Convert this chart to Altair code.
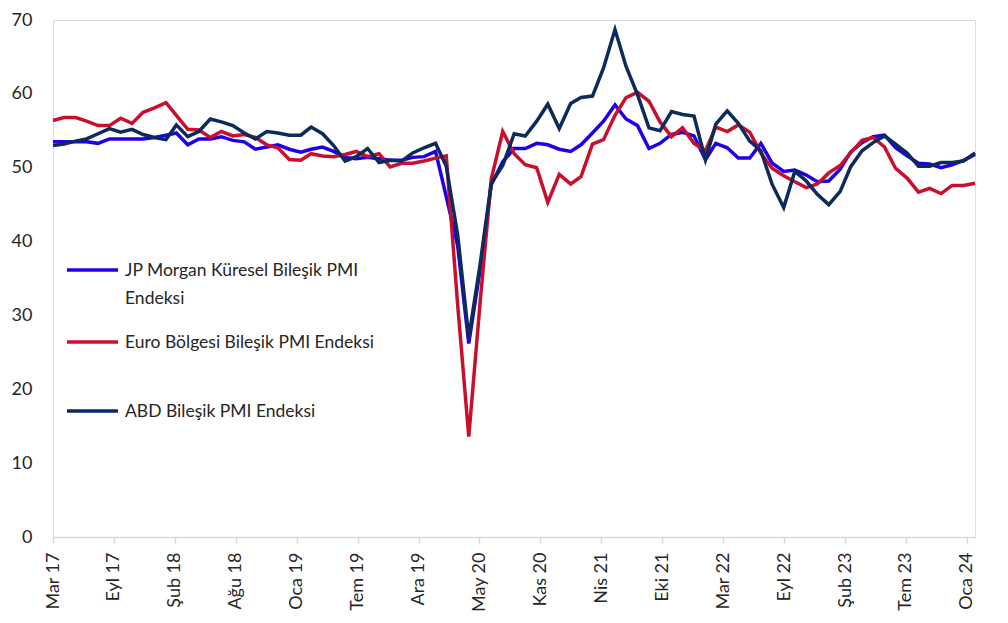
import json
import pandas as pd
import altair as alt

# ---- data (monthly, Mar 2017 - Jan 2024) ----
start_date = "2017-03-31"
n_months = 83

series_names = [
    "JP Morgan Küresel Bileşik PMI Endeksi",
    "Euro Bölgesi Bileşik PMI Endeksi",
    "ABD Bileşik PMI Endeksi",
]
legend_labels = [
    "JP Morgan Küresel Bileşik PMI\nEndeksi",
    "Euro Bölgesi Bileşik PMI Endeksi",
    "ABD Bileşik PMI Endeksi",
]
series_colors = ["#2000E6", "#C8102E", "#0C2A5B"]

jpm = [
    53.5, 53.5, 53.5, 53.5, 53.3, 53.9, 53.9, 53.9, 53.9, 54.1,
    54.4, 54.7, 53.1, 53.9, 53.9, 54.2, 53.7, 53.5, 52.5, 52.8, 53.1, 52.5,
    52.1, 52.5, 52.8, 52.2, 51.4, 51.2, 51.4, 51.2, 51.0, 51.0, 51.4, 51.5,
    52.2, 46.1, 39.4, 26.2, 36.3, 47.7, 50.8, 52.6, 52.6, 53.3, 53.1, 52.5,
    52.2, 53.1, 54.7, 56.3, 58.5, 56.6, 55.7, 52.6, 53.3, 54.5, 54.8, 54.3,
    51.1, 53.3, 52.7, 51.3, 51.3, 53.3, 50.6, 49.5, 49.7, 49.0, 48.1, 48.2,
    49.8, 52.1, 53.4, 54.2, 54.4, 52.7, 51.6, 50.6, 50.5, 50.0, 50.4, 51.0,
    51.8,
]
euro = [
    56.4, 56.8, 56.8, 56.3, 55.7, 55.7, 56.7, 56.0, 57.5, 58.1,
    58.8, 57.1, 55.2, 55.1, 54.1, 54.9, 54.3, 54.5, 54.1, 53.1, 52.7, 51.1,
    51.0, 51.9, 51.6, 51.5, 51.8, 52.2, 51.5, 51.9, 50.1, 50.6, 50.6, 50.9,
    51.3, 51.6, 31.4, 13.6, 31.9, 48.5, 54.9, 51.9, 50.4, 50.0, 45.3, 49.1,
    47.8, 48.8, 53.2, 53.8, 57.1, 59.5, 60.2, 59.0, 56.2, 54.2, 55.4, 53.3,
    52.3, 55.5, 54.9, 55.8, 54.8, 52.0, 49.9, 48.9, 48.1, 47.3, 47.8, 49.3,
    50.3, 52.0, 53.7, 54.1, 52.8, 49.9, 48.6, 46.7, 47.2, 46.5, 47.6, 47.6,
    47.9,
]
abd = [
    53.0, 53.2, 53.6, 53.9, 54.6, 55.3, 54.8, 55.2, 54.5, 54.1,
    53.8, 55.8, 54.2, 54.9, 56.6, 56.2, 55.7, 54.7, 53.9, 54.9, 54.7, 54.4,
    54.4, 55.5, 54.6, 53.0, 50.9, 51.5, 52.6, 50.7, 51.0, 50.9, 52.0, 52.7,
    53.3, 50.2, 40.9, 27.0, 37.0, 47.9, 50.3, 54.6, 54.3, 56.3, 58.6, 55.3,
    58.7, 59.5, 59.7, 63.5, 68.7, 63.7, 59.9, 55.4, 55.0, 57.6, 57.2, 57.0,
    51.1, 55.9, 57.7, 56.0, 53.6, 52.3, 47.7, 44.6, 49.5, 48.2, 46.4, 45.0,
    46.8, 50.1, 52.3, 53.4, 54.3, 53.2, 52.0, 50.2, 50.2, 50.7, 50.7, 50.9,
    52.0,
]

x_tick_labels = [
    "Mar 17", "Eyl 17", "Şub 18", "Ağu 18", "Oca 19", "Tem 19", "Ara 19", "May 20",
    "Kas 20", "Nis 21", "Eki 21", "Mar 22", "Eyl 22", "Şub 23", "Tem 23", "Oca 24",
]
tick_step_days = 165
y_ticks = [0, 10, 20, 30, 40, 50, 60, 70]

# ---- build table ----
dates = pd.date_range(start_date, periods=n_months, freq="ME")
date_str = [d.strftime("%Y-%m-%d") for d in dates]
rows = []
for name, vals in zip(series_names, [jpm, euro, abd]):
    assert len(vals) == n_months
    for d, v in zip(date_str, vals):
        rows.append({"tarih": d, "seri": name, "deger": v})
df = pd.DataFrame(rows)

epoch = pd.Timestamp("1970-01-01")
start_ms = int((pd.Timestamp(start_date) - epoch).total_seconds() * 1000)
end_ms = int((dates[-1] - epoch).total_seconds() * 1000)
day_ms = 86400000
tick_vals = [start_ms + k * tick_step_days * day_ms for k in range(len(x_tick_labels))]

label_expr = (
    f"{json.dumps(x_tick_labels, ensure_ascii=False)}"
    f"[round((datum.value - {start_ms}) / {tick_step_days * day_ms})]"
)

FONT = "Lato"
TXT = "#262626"

base = alt.Chart(df).encode(
    x=alt.X(
        "tarih:T",
        scale=alt.Scale(domain=[start_ms, end_ms], nice=False),
        axis=alt.Axis(
            title=None,
            values=tick_vals,
            labelExpr=label_expr,
            labelAngle=-90,
            labelFontSize=18,
            labelFont=FONT,
            labelColor=TXT,
            labelPadding=9,
            domainColor="#d9d9d9",
            domainWidth=1.5,
            tickColor="#d9d9d9",
            tickWidth=1.5,
            tickSize=6,
            grid=False,
            labelOverlap=False,
            labelBound=False,
            labelFlush=False,
        ),
    ),
    y=alt.Y(
        "deger:Q",
        scale=alt.Scale(domain=[0, 70], nice=False, zero=True),
        axis=alt.Axis(
            title=None,
            values=y_ticks,
            labelFontSize=18,
            labelFont=FONT,
            labelColor=TXT,
            labelPadding=21,
            ticks=False,
            domain=False,
            grid=False,
        ),
    ),
)

layers = []
for name, col in zip(series_names, series_colors):
    layers.append(
        base.transform_filter(alt.datum.seri == name).mark_line(
            color=col, strokeWidth=3.5, strokeJoin="miter", strokeCap="butt"
        )
    )

# ---- manual legend (inside plot, left) ----
one = pd.DataFrame({"k": [0]})
legend_y = [250, 322, 391]
for lab, col, ly in zip(legend_labels, series_colors, legend_y):
    layers.append(
        alt.Chart(one).mark_rule(color=col, strokeWidth=3.5).encode(
            x=alt.value(14), x2=alt.value(65), y=alt.value(ly)
        )
    )
    layers.append(
        alt.Chart(one).mark_text(
            align="left", baseline="alphabetic", font=FONT, fontSize=17.5,
            color=TXT, lineBreak="\n", lineHeight=28,
        ).encode(x=alt.value(72), y=alt.value(ly + 6), text=alt.value(lab))
    )

chart = alt.layer(*layers).properties(
    width=922,
    height=517,
    autosize=alt.AutoSizeParams(type="none"),
    padding={"left": 45, "top": 12, "right": 20, "bottom": 78},
).configure_view(stroke=None).configure(background="white")

chart.save("out.html", embed_options={"renderer": "svg", "actions": False})
